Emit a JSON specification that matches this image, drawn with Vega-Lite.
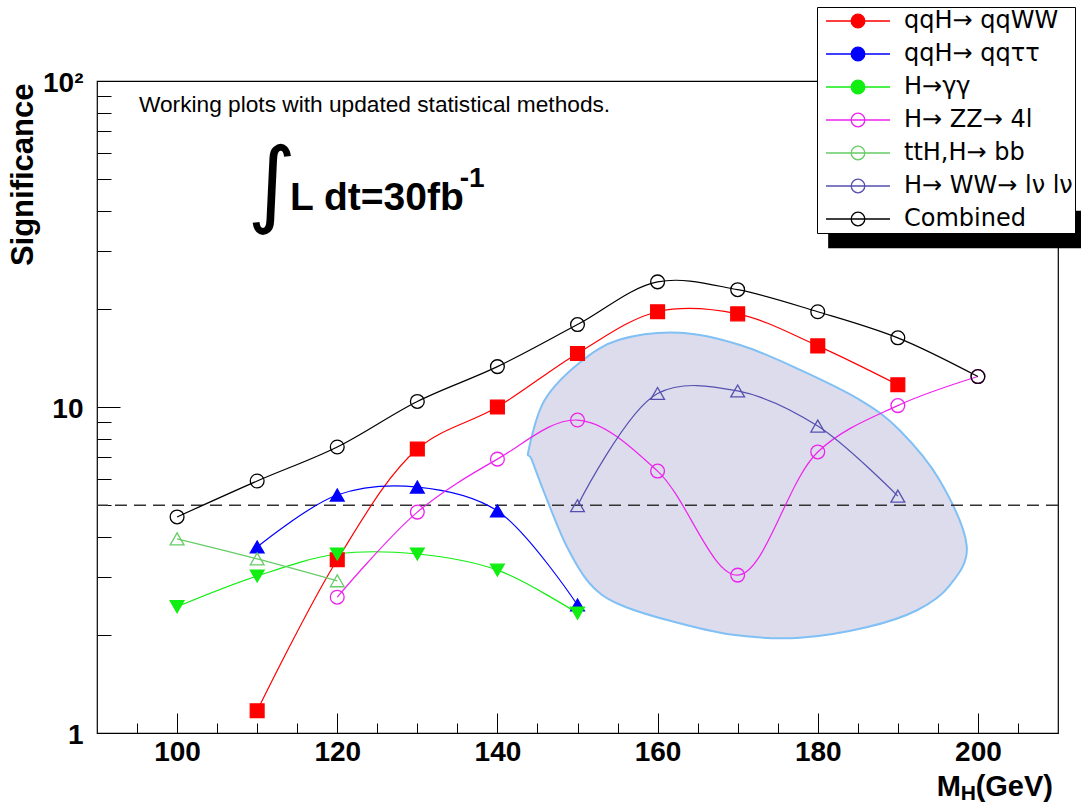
{
  "$schema": "https://vega.github.io/schema/vega-lite/v6.json",
  "width": 961,
  "height": 652,
  "autosize": {"type": "none"},
  "padding": {"left": 97, "top": 81, "right": 23, "bottom": 70},
  "background": "white",
  "config": {
    "font": "Liberation Sans",
    "view": {"stroke": "#000", "strokeWidth": 1.2},
    "axis": {"domain": false, "grid": false, "tickColor": "#000", "tickWidth": 1, "labelColor": "#000", "labelFont": "Liberation Sans", "labelFontWeight": "bold", "labelFlush": false, "labelOverlap": false, "labelBound": false, "titleColor": "#000"},
    "point": {"size": 190, "strokeWidth": 1.3, "opacity": 1}
  },
  "datasets": {
    "series": [
      {"s": "qqH→ qqWW", "m": 110, "sig": 1.17},
      {"s": "qqH→ qqWW", "m": 120, "sig": 3.4},
      {"s": "qqH→ qqWW", "m": 130, "sig": 7.43},
      {"s": "qqH→ qqWW", "m": 140, "sig": 10.0},
      {"s": "qqH→ qqWW", "m": 150, "sig": 14.6},
      {"s": "qqH→ qqWW", "m": 160, "sig": 19.6},
      {"s": "qqH→ qqWW", "m": 170, "sig": 19.3},
      {"s": "qqH→ qqWW", "m": 180, "sig": 15.4},
      {"s": "qqH→ qqWW", "m": 190, "sig": 11.7},
      {"s": "qqH→ qqττ", "m": 110, "sig": 3.72},
      {"s": "qqH→ qqττ", "m": 120, "sig": 5.37},
      {"s": "qqH→ qqττ", "m": 130, "sig": 5.68},
      {"s": "qqH→ qqττ", "m": 140, "sig": 4.8},
      {"s": "qqH→ qqττ", "m": 150, "sig": 2.47},
      {"s": "H→γγ", "m": 100, "sig": 2.44},
      {"s": "H→γγ", "m": 110, "sig": 3.03},
      {"s": "H→γγ", "m": 120, "sig": 3.54},
      {"s": "H→γγ", "m": 130, "sig": 3.54},
      {"s": "H→γγ", "m": 140, "sig": 3.16},
      {"s": "H→γγ", "m": 150, "sig": 2.33},
      {"s": "H→ ZZ→ 4l", "m": 120, "sig": 2.61},
      {"s": "H→ ZZ→ 4l", "m": 130, "sig": 4.76},
      {"s": "H→ ZZ→ 4l", "m": 140, "sig": 6.92},
      {"s": "H→ ZZ→ 4l", "m": 150, "sig": 9.12},
      {"s": "H→ ZZ→ 4l", "m": 160, "sig": 6.36},
      {"s": "H→ ZZ→ 4l", "m": 170, "sig": 3.05},
      {"s": "H→ ZZ→ 4l", "m": 180, "sig": 7.28},
      {"s": "H→ ZZ→ 4l", "m": 190, "sig": 10.1},
      {"s": "H→ ZZ→ 4l", "m": 200, "sig": 12.4},
      {"s": "ttH,H→ bb", "m": 100, "sig": 3.94},
      {"s": "ttH,H→ bb", "m": 110, "sig": 3.42},
      {"s": "ttH,H→ bb", "m": 120, "sig": 2.93},
      {"s": "H→ WW→ lν lν", "m": 150, "sig": 4.98},
      {"s": "H→ WW→ lν lν", "m": 160, "sig": 11.0},
      {"s": "H→ WW→ lν lν", "m": 170, "sig": 11.2},
      {"s": "H→ WW→ lν lν", "m": 180, "sig": 8.74},
      {"s": "H→ WW→ lν lν", "m": 190, "sig": 5.33},
      {"s": "Combined", "m": 100, "sig": 4.6},
      {"s": "Combined", "m": 110, "sig": 5.93},
      {"s": "Combined", "m": 120, "sig": 7.54},
      {"s": "Combined", "m": 130, "sig": 10.4},
      {"s": "Combined", "m": 140, "sig": 13.3},
      {"s": "Combined", "m": 150, "sig": 17.9},
      {"s": "Combined", "m": 160, "sig": 24.2},
      {"s": "Combined", "m": 170, "sig": 22.9},
      {"s": "Combined", "m": 180, "sig": 19.6},
      {"s": "Combined", "m": 190, "sig": 16.3},
      {"s": "Combined", "m": 200, "sig": 12.4}
    ],
    "blob": [
      {"i": 0, "m": 143.9, "sig": 7.38},
      {"i": 1, "m": 145.9, "sig": 10.5},
      {"i": 2, "m": 150.3, "sig": 13.7},
      {"i": 3, "m": 155.3, "sig": 16.1},
      {"i": 4, "m": 162.8, "sig": 16.9},
      {"i": 5, "m": 170.3, "sig": 15.5},
      {"i": 6, "m": 177.8, "sig": 13.0},
      {"i": 7, "m": 185.3, "sig": 10.5},
      {"i": 8, "m": 190.2, "sig": 8.5},
      {"i": 9, "m": 195.2, "sig": 5.97},
      {"i": 10, "m": 198.6, "sig": 3.75},
      {"i": 11, "m": 196.4, "sig": 2.82},
      {"i": 12, "m": 192.4, "sig": 2.38},
      {"i": 13, "m": 186.1, "sig": 2.11},
      {"i": 14, "m": 177.8, "sig": 1.96},
      {"i": 15, "m": 169.4, "sig": 2.0},
      {"i": 16, "m": 161.2, "sig": 2.22},
      {"i": 17, "m": 154.9, "sig": 2.5},
      {"i": 18, "m": 151.5, "sig": 2.88},
      {"i": 19, "m": 148.7, "sig": 3.72},
      {"i": 20, "m": 146.2, "sig": 5.19},
      {"i": 21, "m": 144.3, "sig": 6.88}
    ]
  },
  "layer": [
    {
      "data": {"name": "blob"},
      "mark": {"type": "line", "interpolate": "cardinal-closed", "fill": "#dcdcec", "stroke": "#80c0f5", "strokeWidth": 2},
      "encoding": {
        "x": {"field": "m", "type": "quantitative", "scale": {"domain": [90, 210], "nice": false, "zero": false}},
        "y": {"field": "sig", "type": "quantitative", "scale": {"type": "log", "domain": [1, 100], "nice": false}},
        "order": {"field": "i", "type": "quantitative"}
      }
    },
    {
      "data": {"values": [{}]},
      "mark": {"type": "rule", "stroke": "#333", "strokeWidth": 1.5, "strokeDash": [12, 7]},
      "encoding": {"y": {"datum": 5}}
    },
    {
      "data": {"values": [{}]},
      "mark": {"type": "rect", "fill": "#000"},
      "encoding": {"x": {"datum": 181.3}, "x2": {"datum": 215}, "y": {"datum": 40}, "y2": {"datum": 30.7}}
    },
    {
      "data": {"name": "series"},
      "mark": {"type": "line", "interpolate": "catmull-rom", "strokeWidth": 1.2},
      "encoding": {
        "x": {
          "field": "m", "type": "quantitative",
          "scale": {"domain": [90, 210], "nice": false, "zero": false},
          "axis": {
            "title": null,
            "values": [95, 100, 105, 110, 115, 120, 125, 130, 135, 140, 145, 150, 155, 160, 165, 170, 175, 180, 185, 190, 195, 200, 205],
            "labelExpr": "datum.value % 20 == 0 ? datum.label : ''",
            "tickSize": {"condition": {"test": "datum.value % 20 == 0", "value": -20}, "value": -10},
            "labelFontSize": 28,
            "labelPadding": 25
          }
        },
        "y": {
          "field": "sig", "type": "quantitative",
          "scale": {"type": "log", "domain": [1, 100], "nice": false},
          "axis": {
            "title": "Significance",
            "values": [1, 2, 3, 4, 5, 6, 7, 8, 9, 10, 20, 30, 40, 50, 60, 70, 80, 90, 100],
            "labelExpr": "datum.value == 100 ? '10²' : (datum.value == 10 ? '10' : (datum.value == 1 ? '1' : ''))",
            "tickSize": {"condition": {"test": "datum.value == 1 || datum.value == 10 || datum.value == 100", "value": -23}, "value": -14},
            "labelFontSize": 28,
            "labelPadding": 37,
            "labelOffset": 2,
            "titleFontSize": 31,
            "titleFontWeight": "bold",
            "titleAngle": -90,
            "titleX": -65,
            "titleY": 2,
            "titleAlign": "right",
            "titleBaseline": "alphabetic"
          }
        },
        "stroke": {
          "field": "s", "type": "nominal",
          "scale": {
            "domain": ["qqH→ qqWW", "qqH→ qqττ", "H→γγ", "H→ ZZ→ 4l", "ttH,H→ bb", "H→ WW→ lν lν", "Combined"],
            "range": ["#ff0000", "#0000ff", "#11ee11", "#ee22ee", "#66cc66", "#5550b0", "#000000"]
          }
        }
      }
    },
    {
      "data": {"name": "series"},
      "transform": [{"filter": {"field": "s", "oneOf": ["qqH→ qqWW"]}}],
      "mark": {"type": "point", "shape": "square"},
      "encoding": {
        "x": {"field": "m", "type": "quantitative"},
        "y": {"field": "sig", "type": "quantitative"},
        "stroke": {
          "field": "s", "type": "nominal",
          "legend": {
            "orient": "none", "legendX": 720, "legendY": -74, "title": null,
            "strokeColor": "#000", "fillColor": "#fff", "padding": 2,
            "labelFont": "DejaVu Sans", "labelFontSize": 24, "labelColor": "#000", "labelLimit": 500,
            "symbolType": "M-4,0H4M-0.85,0A0.85,0.85,0,1,0,0.85,0A0.85,0.85,0,1,0,-0.85,0Z",
            "symbolSize": 256, "symbolStrokeWidth": 1.3, "rowPadding": 9, "symbolOffset": 27, "labelOffset": 34
          }
        },
        "fill": {
          "field": "s", "type": "nominal",
          "scale": {
            "domain": ["qqH→ qqWW", "qqH→ qqττ", "H→γγ", "H→ ZZ→ 4l", "ttH,H→ bb", "H→ WW→ lν lν", "Combined"],
            "range": ["#ff0000", "#0000ff", "#11ee11", "transparent", "transparent", "transparent", "transparent"]
          }
        }
      }
    },
    {
      "data": {"name": "series"},
      "transform": [{"filter": {"field": "s", "oneOf": ["qqH→ qqττ", "ttH,H→ bb", "H→ WW→ lν lν"]}}],
      "mark": {"type": "point", "shape": "triangle-up"},
      "encoding": {
        "x": {"field": "m", "type": "quantitative"},
        "y": {"field": "sig", "type": "quantitative"},
        "stroke": {"field": "s", "type": "nominal"},
        "fill": {"field": "s", "type": "nominal"}
      }
    },
    {
      "data": {"name": "series"},
      "transform": [{"filter": {"field": "s", "oneOf": ["H→γγ"]}}],
      "mark": {"type": "point", "shape": "triangle-down"},
      "encoding": {
        "x": {"field": "m", "type": "quantitative"},
        "y": {"field": "sig", "type": "quantitative"},
        "stroke": {"field": "s", "type": "nominal"},
        "fill": {"field": "s", "type": "nominal"}
      }
    },
    {
      "data": {"name": "series"},
      "transform": [{"filter": {"field": "s", "oneOf": ["H→ ZZ→ 4l", "Combined"]}}],
      "mark": {"type": "point", "shape": "circle"},
      "encoding": {
        "x": {"field": "m", "type": "quantitative"},
        "y": {"field": "sig", "type": "quantitative"},
        "stroke": {"field": "s", "type": "nominal"},
        "fill": {"field": "s", "type": "nominal"}
      }
    },
    {
      "data": {"values": [{}]},
      "mark": {"type": "text", "text": "Working plots with updated statistical methods.", "font": "Liberation Sans", "fontSize": 22.7, "align": "left", "baseline": "alphabetic", "color": "#000"},
      "encoding": {"x": {"datum": 95.24}, "y": {"datum": 80.3}}
    },
    {
      "data": {"values": [{}]},
      "mark": {"type": "text", "text": "∫", "font": "DejaVu Sans", "fontSize": 94, "align": "center", "baseline": "alphabetic", "color": "#000"},
      "encoding": {"x": {"datum": 111.85}, "y": {"datum": 38.8}}
    },
    {
      "data": {"values": [{}]},
      "mark": {"type": "text", "text": "L dt=30fb", "font": "Liberation Sans", "fontSize": 39, "fontWeight": "bold", "align": "left", "baseline": "alphabetic", "color": "#000"},
      "encoding": {"x": {"datum": 114.1}, "y": {"datum": 40.2}}
    },
    {
      "data": {"values": [{}]},
      "mark": {"type": "text", "text": "-1", "font": "Liberation Sans", "fontSize": 28, "fontWeight": "bold", "align": "left", "baseline": "alphabetic", "color": "#000"},
      "encoding": {"x": {"datum": 135.3}, "y": {"datum": 47.3}}
    },
    {
      "data": {"values": [{}]},
      "mark": {"type": "text", "text": "(GeV)", "font": "Liberation Sans", "fontSize": 29, "fontWeight": "bold", "align": "right", "baseline": "alphabetic", "color": "#000", "dx": -5, "dy": 63},
      "encoding": {"x": {"datum": 210}, "y": {"datum": 1}}
    },
    {
      "data": {"values": [{}]},
      "mark": {"type": "text", "text": "H", "font": "Liberation Sans", "fontSize": 21, "fontWeight": "bold", "align": "right", "baseline": "alphabetic", "color": "#000", "dx": -82, "dy": 67},
      "encoding": {"x": {"datum": 210}, "y": {"datum": 1}}
    },
    {
      "data": {"values": [{}]},
      "mark": {"type": "text", "text": "M", "font": "Liberation Sans", "fontSize": 29, "fontWeight": "bold", "align": "right", "baseline": "alphabetic", "color": "#000", "dx": -97, "dy": 63},
      "encoding": {"x": {"datum": 210}, "y": {"datum": 1}}
    }
  ]
}
